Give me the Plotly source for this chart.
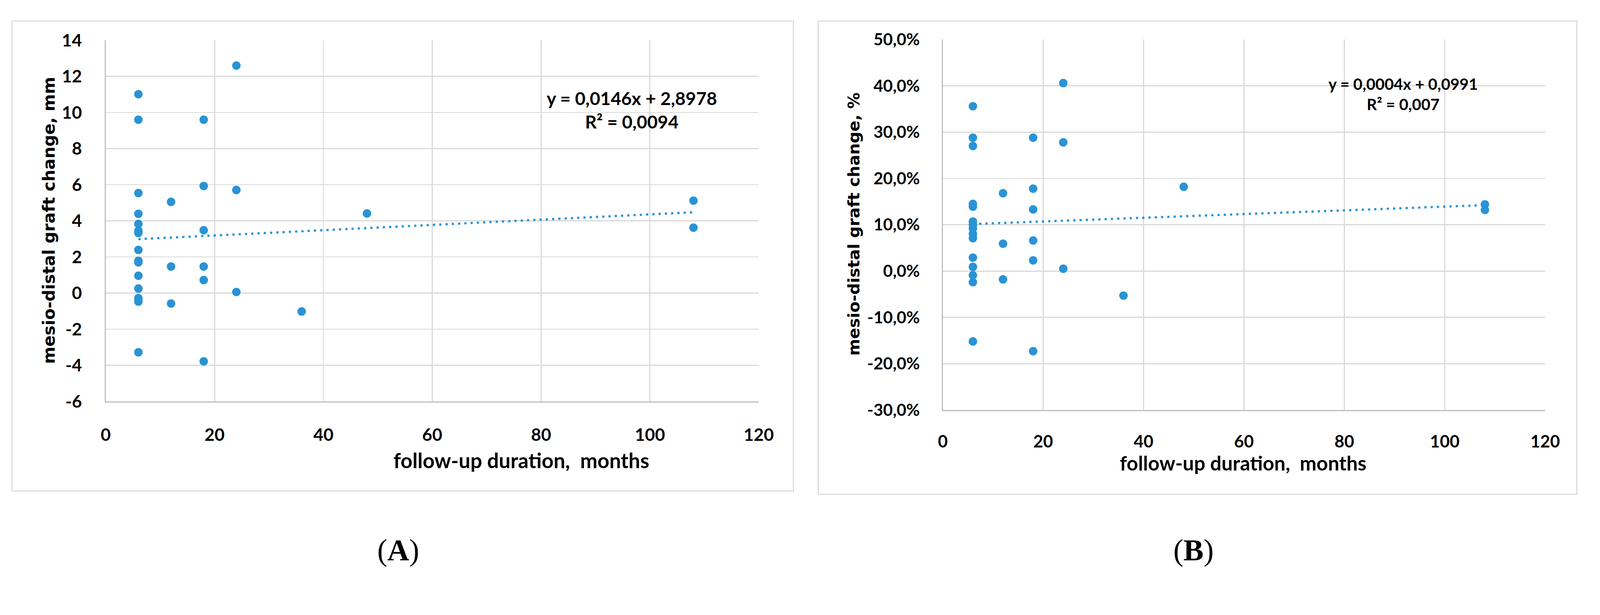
import plotly.graph_objects as go

# ---------------- data ----------------
# Panel A: mesio-distal graft change (mm) vs follow-up (months)
months_a = [6, 6, 6, 6, 6, 6, 6, 6, 6, 6, 6, 6, 6, 6, 6,
            12, 12, 12,
            18, 18, 18, 18, 18, 18,
            24, 24, 24,
            36, 48, 108, 108]
change_mm = [11.01, 9.60, 5.54, 4.39, 3.83, 3.45, 3.33, 2.39, 1.79, 1.70, 0.96, 0.25, -0.28, -0.47, -3.28,
             5.05, 1.47, -0.58,
             9.60, 5.93, 3.48, 1.47, 0.72, -3.78,
             12.60, 5.71, 0.06,
             -1.02, 4.41, 5.12, 3.62]

# Panel B: mesio-distal graft change (fraction) vs follow-up (months)
months_b = [6, 6, 6, 6, 6, 6, 6, 6, 6, 6, 6, 6, 6, 6, 6,
            12, 12, 12,
            18, 18, 18, 18, 18, 18,
            24, 24, 24,
            36, 48, 108, 108]
change_pct = [0.356, 0.288, 0.270, 0.145, 0.139, 0.107, 0.100, 0.092, 0.080, 0.071, 0.029, 0.009, -0.009, -0.024, -0.152,
              0.168, 0.059, -0.018,
              0.288, 0.178, 0.133, 0.066, 0.023, -0.173,
              0.406, 0.278, 0.005,
              -0.053, 0.182, 0.144, 0.132]

# Linear trend lines (as printed on the chart)
trend_a = {"slope": 0.0146, "intercept": 2.8978}
trend_b = {"slope": 0.0004, "intercept": 0.0991}
trend_x = [6, 108]

# tick labels
x_ticks = [0, 20, 40, 60, 80, 100, 120]
x_ticklabels = ["0", "20", "40", "60", "80", "100", "120"]
y_ticks_a = [-6, -4, -2, 0, 2, 4, 6, 8, 10, 12, 14]
y_ticklabels_a = ["-6", "-4", "-2", "0", "2", "4", "6", "8", "10", "12", "14"]
y_ticks_b = [-0.3, -0.2, -0.1, 0.0, 0.1, 0.2, 0.3, 0.4, 0.5]
y_ticklabels_b = ["-30,0%", "-20,0%", "-10,0%", "0,0%", "10,0%", "20,0%", "30,0%", "40,0%", "50,0%"]

eq_a = "y = 0,0146x + 2,8978<br>R² = 0,0094"
eq_b = "y = 0,0004x + 0,0991<br>R² = 0,007"

x_title = "follow-up duration,  months"
y_title_a = "mesio-distal graft change, mm"
y_title_b = "mesio-distal graft change, %"

# ---------------- styling ----------------
W, H = 4335, 1575
BLUE = "#2A93D5"
GRID = "#d9d9d9"
AXIS = "#bfbfbf"
TICKFONT = "Lato"
TITLEFONT = "DejaVu Sans"


def px_x(p):
    return p / W


def px_y(p):
    return 1 - p / H


fig = go.Figure()

# Panel A
fig.add_trace(go.Scatter(x=months_a, y=change_mm, mode="markers",
                         marker=dict(size=23, color=BLUE), xaxis="x", yaxis="y",
                         showlegend=False))
fig.add_trace(go.Scatter(x=trend_x,
                         y=[trend_a["slope"] * v + trend_a["intercept"] for v in trend_x],
                         mode="lines", line=dict(color=BLUE, width=6, dash="6px,11px"),
                         xaxis="x", yaxis="y", showlegend=False))
# Panel B
fig.add_trace(go.Scatter(x=months_b, y=change_pct, mode="markers",
                         marker=dict(size=23, color=BLUE), xaxis="x2", yaxis="y2",
                         showlegend=False))
fig.add_trace(go.Scatter(x=trend_x,
                         y=[trend_b["slope"] * v + trend_b["intercept"] for v in trend_x],
                         mode="lines", line=dict(color=BLUE, width=6, dash="6px,11px"),
                         xaxis="x2", yaxis="y2", showlegend=False))

common_x = dict(range=[0, 120], tickmode="array", tickvals=x_ticks, ticktext=x_ticklabels,
                showgrid=True, gridcolor=GRID, gridwidth=3,
                showline=True, linecolor=AXIS, linewidth=3, zeroline=False, ticks="",
                fixedrange=True)
common_y = dict(showgrid=True, gridcolor=GRID, gridwidth=3, tickmode="array",
                showline=True, linecolor=AXIS, linewidth=3, zeroline=False, ticks="",
                fixedrange=True)

fig.update_layout(
    width=W, height=H,
    margin=dict(l=0, r=0, t=0, b=0),
    paper_bgcolor="white", plot_bgcolor="white",
    xaxis=dict(**common_x, domain=[px_x(276), px_x(2068)], anchor="y",
               tickfont=dict(family=TICKFONT, size=47, color="black", weight=700),
               ticklabelstandoff=48),
    yaxis=dict(**common_y, domain=[px_y(1097), px_y(82)], anchor="x",
               range=[-6, 14], tickvals=y_ticks_a, ticktext=y_ticklabels_a,
               tickfont=dict(family=TICKFONT, size=47, color="black", weight=700),
               ticklabelstandoff=52),
    xaxis2=dict(**common_x, domain=[px_x(2573), px_x(4226)], anchor="y2",
                tickfont=dict(family=TICKFONT, size=46, color="black", weight=700),
                ticklabelstandoff=44),
    yaxis2=dict(**common_y, domain=[px_y(1121), px_y(80)], anchor="x2",
                range=[-0.3, 0.5], tickvals=y_ticks_b, ticktext=y_ticklabels_b,
                tickfont=dict(family=TICKFONT, size=45, color="black", weight=700),
                ticklabelstandoff=50),
)

# panel frames
for x0, x1, y0, y1 in [(19, 2163, 28, 1349), (2231, 4313, 28, 1358)]:
    fig.add_shape(type="rect", xref="paper", yref="paper",
                  x0=px_x(x0), x1=px_x(x1), y0=px_y(y1), y1=px_y(y0),
                  line=dict(color=GRID, width=3), fillcolor="rgba(0,0,0,0)", layer="below")

ann = []
# axis titles
ann.append(dict(text=y_title_a, x=px_x(120), y=px_y(588), textangle=-90,
                font=dict(family=TITLEFONT, size=45, color="black", weight=700)))
ann.append(dict(text=y_title_b, x=px_x(2329), y=px_y(598), textangle=-90,
                font=dict(family=TITLEFONT, size=44, color="black", weight=700)))
ann.append(dict(text=x_title, x=px_x(1416), y=px_y(1262),
                font=dict(family=TICKFONT, size=56, color="black", weight=700)))
ann.append(dict(text=x_title, x=px_x(3397), y=px_y(1270),
                font=dict(family=TICKFONT, size=54, color="black", weight=700)))
# equations
ann.append(dict(text=eq_a, x=px_x(1720), y=px_y(278), align="center",
                font=dict(family=TICKFONT, size=49, color="black", weight=700)))
ann.append(dict(text=eq_b, x=px_x(3836), y=px_y(233), align="center",
                font=dict(family=TICKFONT, size=43, color="black", weight=700)))
# panel labels
ann.append(dict(text="(<b>A</b>)", x=px_x(1079), y=px_y(1515),
                font=dict(family="Liberation Serif", size=82, color="black")))
ann.append(dict(text="(<b>B</b>)", x=px_x(3261), y=px_y(1515),
                font=dict(family="Liberation Serif", size=82, color="black")))

for a in ann:
    a.update(xref="paper", yref="paper", showarrow=False, xanchor="center", yanchor="middle")
    fig.add_annotation(**a)

# Fit the fixed-size figure into whatever viewport the browser provides
fit_js = """
document.documentElement.style.margin = '0';
document.body.style.margin = '0';
document.body.style.overflow = 'hidden';
var gd = document.getElementById('{plot_id}');
var s = Math.min(window.innerWidth / %d, window.innerHeight / %d);
if (s > 0 && Math.abs(s - 1) > 0.002) {
  gd.style.transformOrigin = '0 0';
  gd.style.transform = 'scale(' + s + ')';
}
""" % (W, H)

fig.write_html("out.html", post_script=fit_js, config={"displayModeBar": False})
